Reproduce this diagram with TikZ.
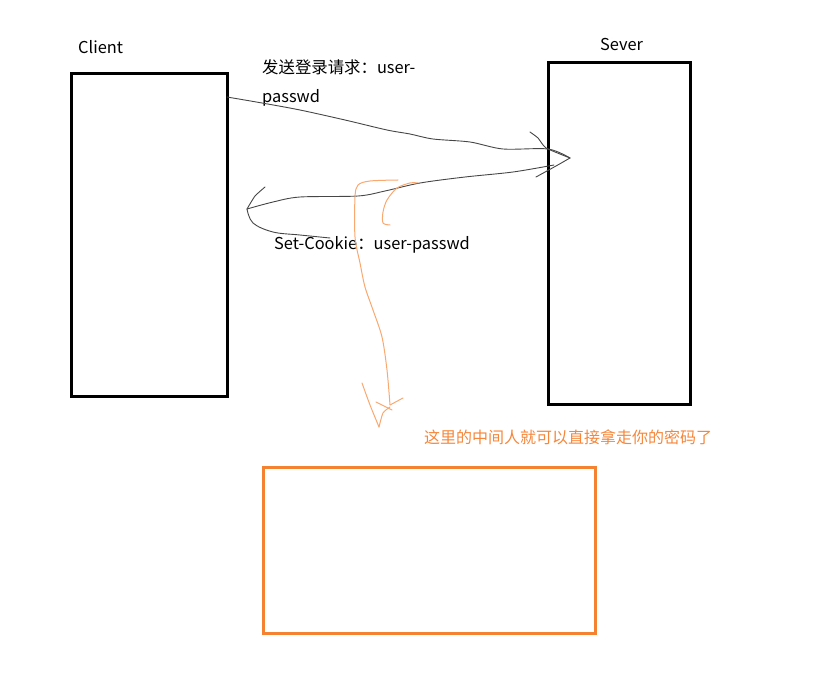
\documentclass[tikz,border=0pt]{standalone}
\usepackage{fontspec}
\setmainfont{Noto Sans CJK SC}
\definecolor{boxorange}{RGB}{245,130,48}
\definecolor{txtorange}{RGB}{246,134,58}
\definecolor{penorange}{RGB}{249,168,112}
\definecolor{pengray}{RGB}{70,70,70}
\tikzset{
  blackbox/.style={draw=black,line width=3pt},
  orangebox/.style={draw=boxorange,line width=3pt},
  lbl/.style={inner sep=0pt,anchor=base west,font=\fontsize{16.4}{19}\selectfont},
  graypen/.style={draw=pengray,line width=0.9pt,line cap=round,line join=round},
  orangepen/.style={draw=penorange,line width=1pt,line cap=round,line join=round}
}
\begin{document}
\begin{tikzpicture}[x=1pt,y=-1pt]
\useasboundingbox (0,0) rectangle (827,687);
% boxes
\draw[blackbox] (71,74) rectangle (227,396);
\coordinate (client) at (227,97);
\draw[blackbox] (548,63) rectangle (690,404);
\draw[orangebox] (263,467) rectangle (595,633);
% labels
\node[lbl] (clientlbl) at (78,54) {Client};
\node[lbl] (severlbl) at (600,51) {Sever};
\node[lbl] (req1) at (262,74) {发送登录请求：user-};
\node[lbl] (req2) at (262,103) {passwd};
\node[lbl] (cookie) at (274,249) {Set-Cookie：user-passwd};
\node[lbl,text=txtorange,font=\fontsize{16}{19}\selectfont] (mitm) at (424,443) {这里的中间人就可以直接拿走你的密码了};
% request arrow
\coordinate (reqtip) at (570,158);
\draw[graypen] plot[smooth,tension=0.5] coordinates {(client) (262,103) (300,110) (345,120) (387,130) (410,134) (433,139) (470,142) (503,149) (548,149) (570,158)};
\draw[graypen] plot[smooth,tension=0.3] coordinates {(530,132) (538,138) (546,148) (reqtip)};
\draw[graypen] plot[smooth,tension=0.3] coordinates {(reqtip) (556,166) (536,177)};
% response arrow
\coordinate (resptip) at (247,209);
\draw[graypen] plot[smooth,tension=0.5] coordinates {(554,165) (513,172) (465,177) (420,183) (385,191) (358,196) (300,197) (273,202) (resptip)};
\draw[graypen] plot[smooth,tension=0.3] coordinates {(resptip) (255,196) (265,187)};
\draw[graypen] plot[smooth,tension=0.6] coordinates {(resptip) (253,223) (273,232) (300,235) (330,238)};
% orange pen marks
\coordinate (penend) at (379,427);
\draw[orangepen] plot[smooth,tension=0.5] coordinates {(398,180) (370,181) (358,185) (355,197) (355,237) (360,263) (365,287) (373,310) (382,337) (387,370) (390,405)};
\draw[orangepen] plot[smooth,tension=0.4] coordinates {(362,383) (370,405) (penend)};
\draw[orangepen] plot[smooth,tension=0.4] coordinates {(penend) (383,413) (390,407)};
\draw[orangepen] (376,402) -- (392,410);
\draw[orangepen] (390,405) -- (403,398);
\draw[orangepen] plot[smooth,tension=0.5] coordinates {(418,183) (410,183) (397,188) (387,200) (383,212) (383,223) (390,225)};
\end{tikzpicture}
\end{document}
